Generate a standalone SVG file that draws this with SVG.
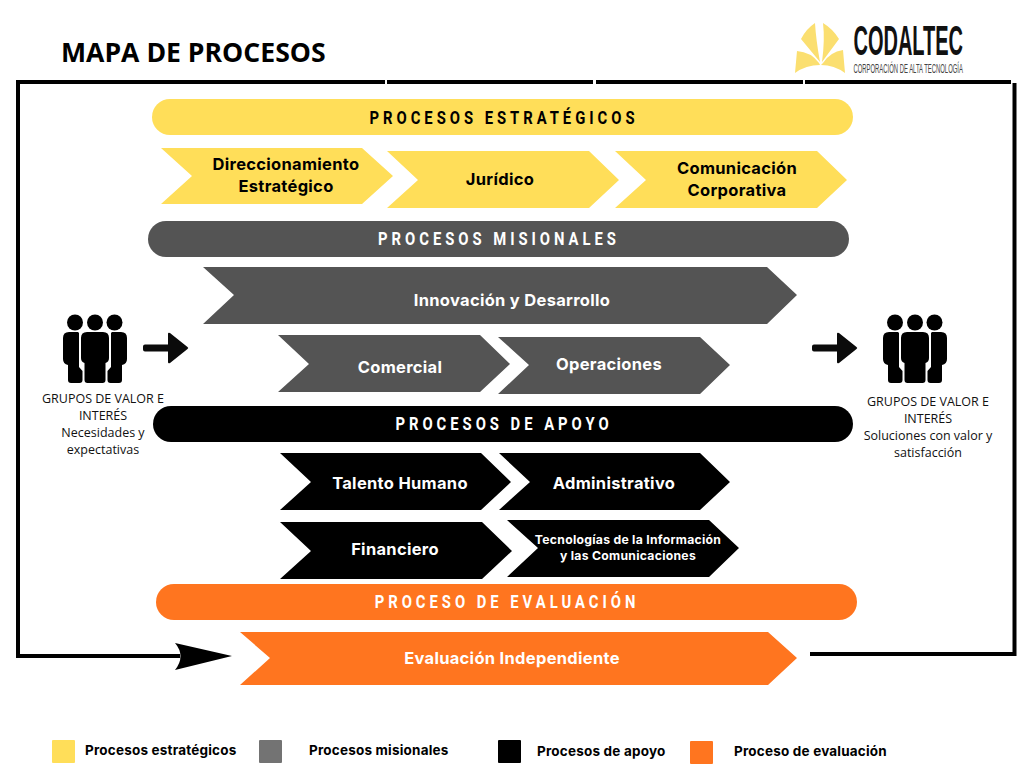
<svg xmlns="http://www.w3.org/2000/svg" xmlns:xlink="http://www.w3.org/1999/xlink" width="1024" height="768" viewBox="0 0 1024 768">
<style>
.y{fill:#FFDE59}.g{fill:#545454}.k{fill:#000}.o{fill:#FF751F}
.ban{font-family:Roboto,"Liberation Sans",sans-serif;font-weight:700;font-size:19px;letter-spacing:5.100px;text-anchor:middle}
.lab{font-family:Inter,"Liberation Sans",sans-serif;font-weight:700;font-size:16.500px;letter-spacing:.3px;text-anchor:middle}
.tic{font-size:12.200px;letter-spacing:.28px}
.leg{font-family:Inter,"Liberation Sans",sans-serif;font-weight:700;font-size:13.500px;letter-spacing:.2px}
.sm{font-family:"Open Sans","Liberation Sans",sans-serif;font-size:12.500px;fill:#111;text-anchor:middle}
.w{fill:#fff}
.line{fill:none;stroke:#000;stroke-width:4}
</style>
<defs>
<g id="people">
<circle cx="-20" cy="7.500" r="8"/><circle cx="0" cy="7.500" r="8"/><circle cx="19.500" cy="7.500" r="8"/>
<path d="M-26 17H-17L-16 18V52L-12.500 56V65Q-12.500 68-15.500 68H-24Q-27 68-27 65V50Q-32 49-32 44V23Q-32 17-26 17z"/>
<path d="M26 17H17L16 18V52L12.500 56V65Q12.500 68 15.500 68H24Q27 68 27 65V50Q32 49 32 44V23Q32 17 26 17z"/>
<path d="M-8 17H8Q14 17 14 23V43Q14 47 10.500 48V65Q10.500 68 7.500 68H-7.500Q-10.500 68-10.500 65V48Q-14 47-14 43V23Q-14 17-8 17z"/>
</g>
<path id="arr" d="M0-3.500H23V-14Q23-16 25-15L42.500-1Q44 0 42.500 1L25 15Q23 16 23 14V3.500H0Q-2 3.500-2 1.500V-1.500Q-2-3.500 0-3.500z"/>
</defs>
<rect width="1024" height="768" fill="#fff"/>
<text x="61" y="62" font-family="'Open Sans','Liberation Sans',sans-serif" font-weight="700" font-size="26.600px">MAPA DE PROCESOS</text>
<g id="logo">
<g fill="#FBDF70">
<path d="M815 23Q806 29 801 39L820 62Q816 40 815 23z"/>
<path d="M823 23Q833 29 839 39L822 62Q825 40 823 23z"/>
<path d="M795 73L797 51Q811 52 819 63L820 65Q806 65 795 73z"/>
<path d="M845 73L843 50Q830 52 823 63L821 65Q834 65 845 73z"/>
</g>
<text transform="translate(853.500 55) scale(.465 1)" font-family="'Liberation Sans',sans-serif" font-weight="700" font-size="43px" fill="#111">CODALTEC</text>
<text transform="translate(853.500 73) scale(.437 1)" font-family="'Liberation Sans',sans-serif" font-size="13.500px" fill="#444">CORPORACIÓN DE ALTA TECNOLOGÍA</text>
</g>
<g id="connectors">
<path class="line" d="M16 82H385M387 82H593M596 82H803M805 82H1011"/>
<path class="line" d="M18 82V656H180"/>
<path class="line" d="M1014.500 83V654H810"/>
<path d="M175 643L232 656 175 670Q186 656 175 643z" fill="#000"/>
<use xlink:href="#arr" href="#arr" x="145" y="348" fill="#0b0b0b"/>
<use xlink:href="#arr" href="#arr" x="814" y="348" fill="#0b0b0b"/>
</g>
<g id="left-group">
<use xlink:href="#people" href="#people" x="95" y="315"/>
<text class="sm" x="103" y="403">GRUPOS DE VALOR E</text><text class="sm" x="103" y="420">INTERÉS</text><text class="sm" x="103" y="437">Necesidades y</text><text class="sm" x="103" y="454">expectativas</text>
</g>
<g id="right-group">
<use xlink:href="#people" href="#people" x="915" y="315"/>
<text class="sm" x="928" y="406">GRUPOS DE VALOR E</text><text class="sm" x="928" y="423">INTERÉS</text><text class="sm" x="928" y="440">Soluciones con valor y</text><text class="sm" x="928" y="457">satisfacción</text>
</g>
<g id="ban-estrategicos"><rect class="y" x="152" y="99" width="701" height="36" rx="18"/><text class="ban" transform="translate(504 123.500) scale(.78 1)">PROCESOS ESTRATÉGICOS</text></g>
<g id="direccionamiento"><path class="y" d="M161 148H362L393 176 362 204H161L192 176z"/><text class="lab" x="286" y="170">Direccionamiento</text><text class="lab" x="286" y="192">Estratégico</text></g>
<g id="juridico"><path class="y" d="M387 151H589L619 180 589 208H387L418 180z"/><text class="lab" x="500" y="185">Jurídico</text></g>
<g id="comunicacion"><path class="y" d="M615 151H817L847 180 817 208H615L646 180z"/><text class="lab" x="737" y="174">Comunicación</text><text class="lab" x="737" y="196">Corporativa</text></g>
<g id="ban-misionales"><rect class="g" x="148" y="221" width="701" height="36" rx="18"/><text class="ban w" transform="translate(499 245) scale(.78 1)">PROCESOS MISIONALES</text></g>
<g id="innovacion"><path class="g" d="M203 267H767L797 295 767 324H203L234 295z"/><text class="lab w" x="512" y="306">Innovación y Desarrollo</text></g>
<g id="comercial"><path class="g" d="M278 335H480L510 364 480 392H278L309 364z"/><text class="lab w" x="400" y="373">Comercial</text></g>
<g id="operaciones"><path class="g" d="M498 337H700L730 365 700 394H498L529 365z"/><text class="lab w" x="609" y="370">Operaciones</text></g>
<g id="ban-apoyo"><rect class="k" x="153" y="406" width="700" height="36" rx="18"/><text class="ban w" transform="translate(504 430) scale(.78 1)">PROCESOS DE APOYO</text></g>
<g id="talento"><path class="k" d="M280 453H481L511 482 481 510H280L311 482z"/><text class="lab w" x="400" y="489">Talento Humano</text></g>
<g id="administrativo"><path class="k" d="M499 453H700L730 482 700 510H499L530 482z"/><text class="lab w" x="614" y="489">Administrativo</text></g>
<g id="financiero"><path class="k" d="M280 522H482L512 551 482 579H280L311 551z"/><text class="lab w" x="395" y="555">Financiero</text></g>
<g id="tic"><path class="k" d="M507 520H709L739 548 709 577H507L538 548z"/><text class="lab w tic" x="628" y="544">Tecnologías de la Información</text><text class="lab w tic" x="628" y="560">y las Comunicaciones</text></g>
<g id="ban-evaluacion"><rect class="o" x="156" y="584" width="701" height="36" rx="18"/><text class="ban w" transform="translate(507 608) scale(.78 1)">PROCESO DE EVALUACIÓN</text></g>
<g id="evaluacion"><path class="o" d="M240 632H768L797 658 768 685H240L270 658z"/><text class="lab w" x="512" y="664">Evaluación Independiente</text></g>
<g id="legend">
<rect class="y" x="52" y="740" width="23" height="23" rx="1"/><text class="leg" x="85" y="755">Procesos estratégicos</text>
<rect x="259" y="740" width="23" height="23" rx="1" fill="#737373"/><text class="leg" x="309" y="755">Procesos misionales</text>
<rect class="k" x="498" y="740" width="23" height="23" rx="1"/><text class="leg" x="537" y="756">Procesos de apoyo</text>
<rect class="o" x="690" y="741" width="23" height="23" rx="1"/><text class="leg" x="734" y="756">Proceso de evaluación</text>
</g>
</svg>
